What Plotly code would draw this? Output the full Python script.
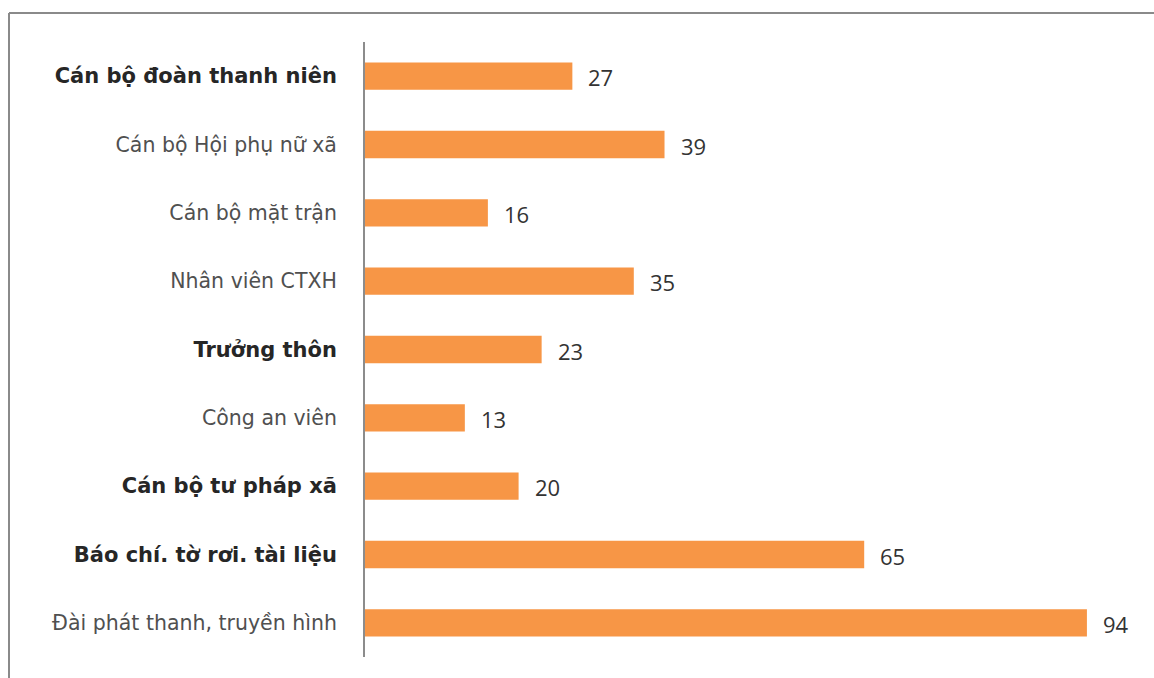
import plotly.graph_objects as go

# Categories listed top to bottom, with their counts
categories = [
    "Cán bộ đoàn thanh niên",
    "Cán bộ Hội phụ nữ xã",
    "Cán bộ mặt trận",
    "Nhân viên CTXH",
    "Trưởng thôn",
    "Công an viên",
    "Cán bộ tư pháp xã",
    "Báo chí. tờ rơi. tài liệu",
    "Đài phát thanh, truyền hình",
]
values = [27, 39, 16, 35, 23, 13, 20, 65, 94]
bold_labels = {"Cán bộ đoàn thanh niên", "Trưởng thôn", "Cán bộ tư pháp xã", "Báo chí. tờ rơi. tài liệu"}

BAR_COLOR = "#F79646"

# plotly draws the first category at the bottom, so reverse for display
cats_plot = categories[::-1]
vals_plot = values[::-1]


def tick_label(name):
    if name in bold_labels:
        return f"<span style='font-size:21px;color:#262626'><b>{name}</b></span>"
    return name


fig = go.Figure(
    go.Bar(
        x=vals_plot,
        y=cats_plot,
        orientation="h",
        width=0.4,
        marker=dict(color=BAR_COLOR, line=dict(width=0)),
        hoverinfo="skip",
    )
)

# value labels to the right of each bar
for c, v in zip(cats_plot, vals_plot):
    fig.add_annotation(
        x=v, y=c, xref="x", yref="y",
        text=str(v), showarrow=False,
        xanchor="left", xshift=14, yshift=-1,
        font=dict(family="Open Sans, sans-serif", size=22, color="#333333"),
    )

fig.update_layout(
    width=1154,
    height=678,
    margin=dict(l=365, r=21, t=42, b=21),
    paper_bgcolor="white",
    plot_bgcolor="white",
    showlegend=False,
    font=dict(family="DejaVu Sans, sans-serif"),
    xaxis=dict(
        range=[0, 100],
        showgrid=False,
        zeroline=False,
        showticklabels=False,
        showline=False,
        ticks="",
        fixedrange=True,
    ),
    yaxis=dict(
        categoryorder="array",
        categoryarray=cats_plot,
        tickvals=cats_plot,
        ticktext=[tick_label(c) for c in cats_plot],
        tickfont=dict(family="DejaVu Sans, sans-serif", size=20.5, color="#505050"),
        range=[-0.5, len(cats_plot) - 0.5],
        showline=True,
        linecolor="#8c8c8c",
        linewidth=2,
        ticks="",
        ticklabelstandoff=22,
        showgrid=False,
        zeroline=False,
        fixedrange=True,
    ),
    shapes=[
        # outer frame: top and left edges
        dict(type="line", xref="paper", yref="paper",
             x0=-356 / 768, x1=789 / 768, y0=1 + 29 / 615, y1=1 + 29 / 615,
             line=dict(color="#8a8a8a", width=2)),
        dict(type="line", xref="paper", yref="paper",
             x0=-356 / 768, x1=-356 / 768, y0=1 + 29 / 615, y1=-21 / 615,
             line=dict(color="#8a8a8a", width=2)),
    ],
)

fig.write_html("out.html")
